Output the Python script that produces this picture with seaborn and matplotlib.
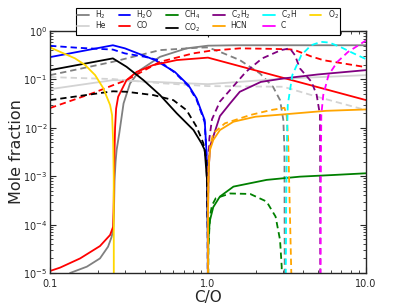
import matplotlib

matplotlib.use("Agg")
import pandas as pd
import seaborn as sns
from matplotlib import pyplot as plt
from matplotlib.lines import Line2D
from matplotlib.ticker import FormatStrFormatter, LogLocator, NullFormatter

# C/O values and mole fractions; solid and dashed cases per species
H2_SOLID_CO = [0.125, 0.134, 0.171, 0.207, 0.233, 0.245, 0.251, 0.254, 0.256, 0.260, 0.264,
               0.274, 0.292, 0.321, 0.371, 0.497, 0.731, 1.0, 1.5, 3.0, 10.0]
H2_SOLID = [7e-6, 1.0e-5, 1.35e-5, 2.0e-5, 3.5e-5, 5.5e-5, 7.7e-5, 2e-4, 8e-4, 2e-3, 3.5e-3,
            7.5e-3, 0.032, 0.083, 0.156, 0.294, 0.44, 0.50, 0.51, 0.51, 0.51]
H2_DASHED_CO = [0.1, 0.25, 0.497, 0.889, 1.0, 1.19, 1.59, 2.13, 2.58, 2.86, 3.0, 3.05, 3.08]
H2_DASHED = [0.123, 0.232, 0.405, 0.456, 0.46, 0.373, 0.252, 0.134, 0.0707, 0.0375, 0.0145,
             0.0035, 1e-9]

HE_SOLID_CO = [0.1, 0.25, 0.497, 1.0, 3.0, 10.0]
HE_SOLID = [0.063, 0.097, 0.088, 0.080, 0.104, 0.123]
HE_DASHED_CO = [0.1, 0.25, 0.497, 1.0, 3.0, 4.9, 10.0]
HE_DASHED = [0.112, 0.102, 0.084, 0.073, 0.0707, 0.044, 0.0233]

H2O_SOLID_CO = [0.1, 0.25, 0.298, 0.462, 0.616, 0.751, 0.847, 0.910, 0.953, 0.977, 0.990,
                0.997, 0.9995, 1.0]
H2O_SOLID = [0.29, 0.51, 0.44, 0.252, 0.144, 0.0766, 0.0407, 0.0215, 0.0145, 0.0035, 7e-4,
             7e-5, 2e-6, 1e-9]
H2O_DASHED_CO = [0.1, 0.150, 0.25, 0.298, 0.399, 0.483, 0.616, 0.751, 0.847, 0.910, 0.953,
                 0.977, 0.990, 0.997, 1.0]
H2O_DASHED = [0.497, 0.452, 0.415, 0.346, 0.294, 0.252, 0.139, 0.073, 0.038, 0.020, 0.013,
              0.0032, 6e-4, 6e-5, 1e-9]

CO_SOLID_CO = [0.1, 0.1157, 0.155, 0.207, 0.240, 0.251, 0.253, 0.255, 0.258, 0.262, 0.270,
               0.305, 0.354, 0.449, 0.634, 1.0, 10.0]
CO_SOLID = [1.1e-5, 1.29e-5, 2.0e-5, 3.6e-5, 6.1e-5, 9.1e-5, 3e-4, 2e-3, 0.01, 0.025, 0.044,
            0.097, 0.144, 0.198, 0.252, 0.283, 0.0375]
CO_DASHED_CO = [0.1, 0.187, 0.25, 0.305, 0.497, 0.804, 1.03, 1.59, 2.5, 3.3, 3.55, 4.5, 5.4,
                7.5, 10.0]
CO_DASHED = [0.0257, 0.0524, 0.076, 0.097, 0.232, 0.346, 0.392, 0.44, 0.43, 0.42, 0.405,
             0.30, 0.25, 0.21, 0.18]

CH4_SOLID_CO = [1.0, 1.001, 1.005, 1.015, 1.03, 1.08, 1.19, 1.45, 2.35, 3.82, 6.2, 10.0]
CH4_SOLID = [1e-9, 1e-5, 4e-5, 7.7e-5, 1.24e-4, 2.3e-4, 3.8e-4, 6.1e-4, 8.4e-4, 9.8e-4,
             1.06e-3, 1.15e-3]
CH4_DASHED_CO = [1.0, 1.005, 1.03, 1.06, 1.12, 1.38, 1.85, 2.35, 2.68, 2.86, 2.93, 2.96]
CH4_DASHED = [1e-9, 3e-5, 1.5e-4, 2.5e-4, 3.5e-4, 4.4e-4, 4.3e-4, 3.0e-4, 1.46e-4, 4.8e-5,
              1.35e-5, 1e-9]

CO2_SOLID_CO = [0.1, 0.25, 0.305, 0.390, 0.497, 0.634, 0.810, 0.910, 0.953, 0.990, 0.998, 1.0]
CO2_SOLID = [0.156, 0.273, 0.183, 0.097, 0.0476, 0.020, 0.009, 0.0048, 0.0035, 7.2e-4, 5e-5,
             1e-9]
CO2_DASHED_CO = [0.1, 0.25, 0.305, 0.451, 0.603, 0.731, 0.847, 0.935, 0.978, 0.997, 1.0]
CO2_DASHED = [0.0375, 0.057, 0.0557, 0.0476, 0.0375, 0.0233, 0.0105, 0.0048, 0.0021, 1e-4,
              1e-9]

C2H2_SOLID_CO = [1.0, 1.0001, 1.0005, 1.002, 1.008, 1.03, 1.19, 1.38, 1.59, 2.16, 3.0, 4.96,
                 10.0]
C2H2_SOLID = [1e-9, 1.4e-5, 7e-5, 3e-4, 1.2e-3, 4.1e-3, 0.0175, 0.032, 0.0557, 0.089, 0.105,
              0.127, 0.156]
C2H2_DASHED_CO = [1.0, 1.001, 1.005, 1.02, 1.06, 1.19, 1.35, 1.74, 2.2, 2.9, 3.3, 3.55, 3.82,
                  4.53, 4.88, 5.12, 5.14, 5.15]
C2H2_DASHED = [1e-9, 2e-4, 1.5e-3, 6e-3, 0.015, 0.035, 0.0557, 0.144, 0.272, 0.405, 0.44,
               0.319, 0.17, 0.089, 0.0476, 0.0184, 1e-3, 1e-9]

HCN_SOLID_CO = [1.0, 1.001, 1.005, 1.012, 1.03, 1.08, 1.19, 1.45, 2.0, 3.2, 5.6, 10.0]
HCN_SOLID = [1e-9, 1.5e-4, 7e-4, 1.6e-3, 3.5e-3, 5.6e-3, 9e-3, 0.0134, 0.017, 0.0193, 0.0225,
             0.024]
HCN_DASHED_CO = [1.0, 1.001, 1.005, 1.012, 1.03, 1.08, 1.28, 1.85, 2.5, 3.05, 3.15, 3.22, 3.37,
                 3.39]
HCN_DASHED = [1e-9, 1.5e-4, 8e-4, 2e-3, 4e-3, 7.7e-3, 0.0124, 0.0184, 0.0233, 0.026, 0.018,
              5.6e-3, 1e-5, 1e-9]

C2H_DASHED_CO = [3.09, 3.11, 3.13, 3.16, 3.2, 3.42, 3.9, 4.5, 5.2, 5.85, 6.9, 8.3, 10.0]
C2H_DASHED = [1e-9, 1e-5, 3e-4, 5e-3, 0.0296, 0.123, 0.319, 0.51, 0.60, 0.58, 0.47, 0.35, 0.264]

C_DASHED_CO = [5.14, 5.16, 5.18, 5.22, 5.37, 5.8, 6.6, 7.7, 10.0]
C_DASHED = [1e-9, 1e-5, 1e-3, 0.0184, 0.0476, 0.123, 0.232, 0.37, 0.64]

O2_SOLID_CO = [0.1, 0.1157, 0.144, 0.167, 0.193, 0.217, 0.240, 0.247, 0.251, 0.253, 0.254]
O2_SOLID = [0.46, 0.373, 0.273, 0.198, 0.123, 0.0664, 0.0296, 0.0184, 5e-3, 1e-3, 1e-9]

SPECIES = ["H$_2$", "He", "H$_2$O", "CO", "CH$_4$", "CO$_2$", "C$_2$H$_2$", "HCN", "C$_2$H", "C",
           "O$_2$"]
COLORS = ["gray", "lightgray", "blue", "red", "green", "black", "purple", "orange", "cyan",
          "magenta", "gold"]


def build_table() -> pd.DataFrame:
    curves = [
        ("H$_2$", "solid", H2_SOLID_CO, H2_SOLID),
        ("H$_2$", "dashed", H2_DASHED_CO, H2_DASHED),
        ("He", "solid", HE_SOLID_CO, HE_SOLID),
        ("He", "dashed", HE_DASHED_CO, HE_DASHED),
        ("H$_2$O", "solid", H2O_SOLID_CO, H2O_SOLID),
        ("H$_2$O", "dashed", H2O_DASHED_CO, H2O_DASHED),
        ("CO", "solid", CO_SOLID_CO, CO_SOLID),
        ("CO", "dashed", CO_DASHED_CO, CO_DASHED),
        ("CH$_4$", "solid", CH4_SOLID_CO, CH4_SOLID),
        ("CH$_4$", "dashed", CH4_DASHED_CO, CH4_DASHED),
        ("CO$_2$", "solid", CO2_SOLID_CO, CO2_SOLID),
        ("CO$_2$", "dashed", CO2_DASHED_CO, CO2_DASHED),
        ("C$_2$H$_2$", "solid", C2H2_SOLID_CO, C2H2_SOLID),
        ("C$_2$H$_2$", "dashed", C2H2_DASHED_CO, C2H2_DASHED),
        ("HCN", "solid", HCN_SOLID_CO, HCN_SOLID),
        ("HCN", "dashed", HCN_DASHED_CO, HCN_DASHED),
        ("C$_2$H", "dashed", C2H_DASHED_CO, C2H_DASHED),
        ("C", "dashed", C_DASHED_CO, C_DASHED),
        ("O$_2$", "solid", O2_SOLID_CO, O2_SOLID),
    ]
    frames = []
    for species, case, co_ratio, fraction in curves:
        frames.append(pd.DataFrame({"species": species, "case": case, "co": co_ratio,
                                    "fraction": fraction}))
    return pd.concat(frames, ignore_index=True)


def main() -> None:
    sns.set_theme(style="ticks", context="paper")
    plt.rcParams["font.family"] = ["DejaVu Sans"]
    plt.rcParams["mathtext.fontset"] = "dejavusans"
    table = build_table()
    palette = dict(zip(SPECIES, COLORS))

    fig = plt.figure(figsize=(4.07, 3.05), dpi=100)
    ax = fig.add_axes([0.123, 0.105, 0.776, 0.793])
    ax.set_xscale("log")
    ax.set_yscale("log")

    for (species, case), curve in table.groupby(["species", "case"], sort=False):
        sns.lineplot(data=curve, x="co", y="fraction", sort=False, estimator=None,
                     color=palette[species], lw=1.3,
                     linestyle="-" if case == "solid" else (0, (3.5, 2.2)), ax=ax)

    ax.set_xlim(0.1, 10)
    ax.set_ylim(1e-5, 1)
    ax.xaxis.set_major_formatter(FormatStrFormatter("%.1f"))
    ax.xaxis.set_minor_formatter(NullFormatter())
    ax.yaxis.set_major_locator(LogLocator(base=10, numticks=10))
    ax.tick_params(which="both", direction="in", top=True, right=True, labelsize=7)
    ax.tick_params(axis="x", pad=4)
    ax.tick_params(axis="y", pad=2)
    ax.tick_params(which="major", length=4, width=0.8)
    ax.tick_params(which="minor", length=2, width=0.6)
    for spine in ax.spines.values():
        spine.set_linewidth(1.0)
    ax.set_xlabel("C/O", fontsize=11, labelpad=1)
    ax.set_ylabel("Mole fraction", fontsize=11.5, labelpad=-1)

    handles = [Line2D([0], [0], color=c, lw=1.3) for c in COLORS]
    ax.legend(handles, SPECIES, loc="upper center", bbox_to_anchor=(0.5, 1.113), ncol=6,
              fontsize=5.5, frameon=True, fancybox=False, edgecolor="black", framealpha=1,
              handlelength=1.5, columnspacing=1.7, handletextpad=0.8, borderpad=0.15,
              labelspacing=0.0)

    fig.savefig("out.png", dpi=100)
    plt.close(fig)


if __name__ == "__main__":
    main()
